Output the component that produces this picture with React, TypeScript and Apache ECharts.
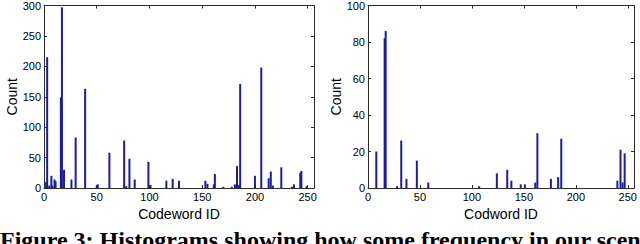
import React, { useEffect, useRef } from 'react';
import * as echarts from 'echarts';

// Left histogram (codeword id -> count)
const leftIds = [2, 3, 5, 7, 8, 10, 11, 16, 17, 19, 26, 30, 39, 50, 51, 62, 76, 78, 81, 86, 99, 101, 116, 122, 128, 153, 155, 161, 162, 170, 178, 181, 183, 185, 186, 200, 206, 213, 215, 217, 225, 235, 237, 243, 244, 249];
const leftCounts = [10, 215, 4, 20, 4, 14, 11, 149, 297, 30, 14, 83, 163, 4, 6, 58, 78, 3, 48, 14, 43, 5, 12, 15, 12, 12, 7, 6, 23, 2, 2, 6, 36, 5, 171, 20, 198, 16, 27, 4, 34, 2, 6, 25, 28, 3];

// Right histogram
const rightIds = [8, 16, 17, 28, 32, 37, 47, 58, 107, 124, 134, 138, 147, 151, 161, 163, 176, 183, 186, 240, 243, 245, 247];
const rightCounts = [20, 82, 86, 1, 26, 5, 15, 3, 1, 8, 10, 4, 2, 2, 3, 30, 5, 6, 27, 4, 21, 3, 19];

const xMin = 0;
const xMax = 256;
const xStep = 50;
const leftYMax = 300;
const leftYStep = 50;
const rightYMax = 100;
const rightYStep = 20;

const leftXName = 'Codeword ID';
const rightXName = 'Codword ID';
const yName = 'Count';
const caption = 'Figure 3: Histograms showing how some frequency in our scenes varies';

const SANS = '"Liberation Sans", Arial, sans-serif';
const LINE = { color: '#2a2a2a', width: 1 };
const BAR = '#1c1ca0';

function xAxisPair(gridIndex: number, name: string) {
  const base = {
    type: 'value' as const,
    gridIndex,
    min: xMin,
    max: xMax,
    interval: xStep,
    splitLine: { show: false },
    axisLine: { show: true, onZero: false, lineStyle: LINE },
    axisTick: { show: true, inside: true, length: 3, lineStyle: LINE },
  };
  return [
    {
      ...base,
      position: 'bottom',
      axisLabel: {
        fontFamily: SANS,
        fontSize: 11,
        color: '#000',
        margin: 3,
        formatter: (v: number) => (v % xStep === 0 ? String(v) : ''),
      },
      name,
      nameLocation: 'middle',
      nameGap: 13,
      nameTextStyle: { fontFamily: SANS, fontSize: 14, color: '#000' },
    },
    { ...base, position: 'top', axisLabel: { show: false } },
  ];
}

function yAxisPair(gridIndex: number, max: number, step: number) {
  const base = {
    type: 'value' as const,
    gridIndex,
    min: 0,
    max,
    interval: step,
    splitLine: { show: false },
    axisLine: { show: true, onZero: false, lineStyle: LINE },
    axisTick: { show: true, inside: true, length: 3, lineStyle: LINE },
  };
  return [
    {
      ...base,
      position: 'left',
      axisLabel: { fontFamily: SANS, fontSize: 11, color: '#000', margin: 3 },
      name: yName,
      nameLocation: 'middle',
      nameRotate: 90,
      nameGap: 24,
      nameTextStyle: { fontFamily: SANS, fontSize: 14, color: '#000' },
    },
    { ...base, position: 'right', axisLabel: { show: false } },
  ];
}

export default function App() {
  const ref = useRef<HTMLDivElement>(null);
  useEffect(() => {
    if (!ref.current) return;
    const chart = echarts.init(ref.current, null, { renderer: 'svg' });
    chart.setOption({
      animation: false,
      backgroundColor: '#fff',
      grid: [
        { left: 44, top: 5, width: 270, height: 183 },
        { left: 368, top: 5, width: 266, height: 183 },
      ],
      xAxis: [...xAxisPair(0, leftXName), ...xAxisPair(1, rightXName)],
      yAxis: [...yAxisPair(0, leftYMax, leftYStep), ...yAxisPair(1, rightYMax, rightYStep)],
      series: [
        {
          type: 'bar',
          xAxisIndex: 0,
          yAxisIndex: 0,
          barWidth: 2,
          itemStyle: { color: BAR },
          data: leftIds.map((id, i) => [id, leftCounts[i]]),
        },
        {
          type: 'bar',
          xAxisIndex: 2,
          yAxisIndex: 2,
          barWidth: 2,
          itemStyle: { color: BAR },
          data: rightIds.map((id, i) => [id, rightCounts[i]]),
        },
      ],
      graphic: [
        {
          type: 'text',
          left: 0,
          top: 228,
          style: {
            text: caption,
            font: 'bold 24px "Liberation Serif", serif',
            fill: '#000',
          },
        },
      ],
    });
    return () => chart.dispose();
  }, []);
  return (
    <div
      ref={ref}
      style={{ position: 'fixed', left: 0, top: 0, width: 640, height: 244, background: '#fff' }}
    />
  );
}
